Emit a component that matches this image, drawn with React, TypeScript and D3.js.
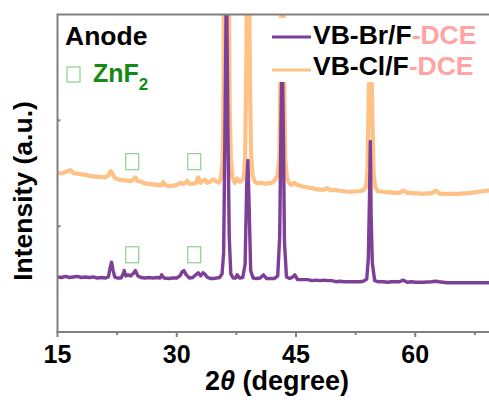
import React from "react";
import * as d3 from "d3";

// ---- data (2θ in degrees, intensity in arbitrary units) ----
const brTheta = [15, 15.5, 16, 16.5, 17, 17.5, 18, 18.5, 19, 19.5, 20, 20.5, 21, 21.4, 21.6, 21.8, 22.0, 22.2, 22.5, 23, 23.2, 23.4, 23.6, 23.9, 24.2, 24.5, 24.8, 25.1, 25.5, 26, 26.5, 27, 27.5, 27.9, 28.1, 28.4, 29, 29.5, 30, 30.4, 30.7, 30.9, 31.2, 31.6, 32, 32.4, 32.7, 33.0, 33.3, 33.5, 33.8, 34.2, 34.6, 35, 35.4, 35.7, 35.9, 36.05, 36.25, 36.45, 36.6, 36.8, 37.1, 37.4, 37.6, 37.9, 38.3, 38.6, 38.8, 38.95, 39.1, 39.3, 39.6, 40, 40.5, 40.9, 41.3, 41.8, 42.3, 42.7, 42.95, 43.1, 43.25, 43.4, 43.55, 43.8, 44.2, 44.6, 44.85, 45.2, 45.8, 46.5, 47, 47.5, 48, 48.5, 49, 49.5, 50, 50.5, 51, 51.5, 52, 52.5, 53, 53.5, 53.9, 54.1, 54.25, 54.35, 54.45, 54.6, 54.9, 55.3, 56, 56.5, 57, 57.5, 58, 58.5, 59, 59.5, 60, 61, 62, 62.6, 63, 64, 65, 66, 67, 68, 69, 70];
const brIntensity = [52, 51.5, 52.5, 51.5, 52, 52.5, 51.5, 52, 51.5, 52, 51, 51.5, 51, 52, 60, 66, 58, 52, 51, 51, 54, 58, 53, 54, 53, 55, 58, 53, 51.5, 51, 51.5, 51, 51.5, 51, 54, 51, 50.5, 51, 51, 53, 57, 58, 54, 51, 51.5, 54, 56, 53, 56, 55, 52, 50.5, 50.5, 51, 51.5, 55, 75, 180, 340, 185, 90, 55, 51, 51, 54, 51, 51.5, 64, 140, 162, 120, 58, 51, 50.5, 51, 54, 50.5, 50.5, 50.5, 53, 90, 190, 272, 195, 85, 52, 50.5, 52, 54, 49.5, 49.5, 49.5, 48.5, 49, 48.5, 49, 48.5, 48.5, 47.5, 48, 47.5, 47.5, 47.5, 47.5, 47.5, 48, 50, 70, 130, 180, 110, 65, 48.5, 47.5, 47.5, 47, 47.5, 47.5, 47.5, 49, 47, 47.5, 47, 47, 47.5, 48, 47.5, 46.5, 46.5, 46.5, 46.5, 46.5, 46.5, 46.5];

const clTheta = [15, 15.5, 16, 16.3, 16.6, 17, 17.5, 18, 18.5, 19, 19.5, 20, 20.5, 21, 21.4, 21.7, 22.0, 22.3, 22.7, 23.2, 23.7, 24.2, 24.5, 24.8, 25.1, 25.5, 26, 26.5, 27, 27.5, 28, 28.3, 28.6, 29, 29.5, 30, 30.5, 30.8, 31.1, 31.3, 31.6, 32, 32.4, 32.7, 33.0, 33.3, 33.5, 33.8, 34.2, 34.5, 34.9, 35.3, 35.55, 35.75, 35.85, 35.95, 36.55, 36.65, 36.8, 37.0, 37.3, 37.6, 37.9, 38.2, 38.45, 38.6, 38.75, 38.85, 39.1, 39.2, 39.35, 39.55, 39.8, 40.2, 40.6, 41, 41.5, 42, 42.4, 42.7, 42.9, 43.05, 43.15, 43.4, 43.5, 43.65, 43.85, 44.1, 44.4, 44.8, 45.2, 45.8, 46.5, 47, 47.5, 48, 48.5, 48.9, 49.3, 50, 50.5, 51, 51.5, 52, 52.5, 53, 53.5, 53.85, 54.0, 54.15, 54.3, 54.45, 54.6, 54.75, 54.95, 55.3, 56, 56.5, 57, 57.5, 58, 58.5, 59, 59.5, 60, 60.5, 61, 61.5, 62, 62.6, 63, 63.5, 64, 64.5, 65, 65.5, 66, 66.5, 67, 67.5, 68, 68.5, 69, 69.5, 70];
const clIntensity = [150, 150, 151, 152, 153, 150, 149.5, 149, 148.5, 147.5, 147, 146.5, 146.5, 146, 148, 152, 148, 145, 144, 143.5, 143, 142.5, 144, 146, 142.5, 142, 140.5, 140, 139.5, 139, 138.5, 141.5, 138.5, 138, 138, 139, 141, 140, 141, 143, 140, 140, 141, 146, 141, 143, 144, 141, 142, 144, 143, 141, 145, 160, 200, 340, 340, 215, 165, 146, 141, 145, 142, 143, 146, 165, 250, 340, 340, 245, 168, 148, 142, 140.5, 141, 140, 140.5, 141, 144, 149, 165, 245, 340, 340, 245, 162, 146, 141, 139, 141, 139, 137.5, 136.5, 136, 135, 134.5, 134.5, 136, 134, 134, 133.5, 133, 132.5, 132.5, 133, 133, 134, 138, 155, 225, 270, 266, 205, 152, 137, 133, 132.5, 132, 132, 131.5, 131.5, 133.5, 131.5, 131.5, 131, 131, 130.5, 131, 131, 133.5, 131, 130.5, 130.5, 130.5, 130.5, 130.5, 131, 131, 131.5, 132, 132.5, 133, 133.5, 134, 134.5];

const xTicks = [15, 30, 45, 60];
const xMinorTicks = [22.5, 37.5, 52.5, 67.5];
const yTicks = [100, 200];
const markerTheta = [24.4, 32.2];
const markerLevels = [161, 73];

const seriesNames = ["VB-Br/F", "VB-Cl/F"];
const seriesSuffix = "-DCE";

const W = 489, H = 402;
const PURPLE = "#7e3f97";
const ORANGE = "#fec287";
const GREEN = "#148a14";
const GREEN_LIGHT = "#8ed08e";
const PINK = "#ffa3a3";
const GRAY = "#808080";
const FONT = "'Liberation Sans', Arial, sans-serif";

export default function App() {
  const left = 57.5, top = 14.5, bottom = 332;
  const x = d3.scaleLinear().domain([15, 70]).range([left, left + 55 * 7.95]);
  const y = d3.scaleLinear().domain([0, 300]).range([bottom, top]);

  const mk = (th: number[], it: number[]) =>
    d3.line<[number, number]>().x(d => x(d[0])).y(d => y(d[1]))(th.map((t, i) => [t, it[i]] as [number, number])) || "";

  const brPath = mk(brTheta, brIntensity);
  const clPath = mk(clTheta, clIntensity);

  const right = x(70);

  return (
    <svg width={W} height={H} style={{ position: "absolute", left: 0, top: 0, background: "#fff" }} fontFamily={FONT}>
      <defs>
        <clipPath id="plotclip">
          <rect x={left} y={top} width={right - left} height={bottom - top} />
        </clipPath>
      </defs>
      <rect x={0} y={0} width={W} height={H} fill="#fff" />
      <g clipPath="url(#plotclip)">
        <path d={clPath} fill="none" stroke={ORANGE} strokeWidth={4.2} strokeLinejoin="round" />
        <path d={brPath} fill="none" stroke={PURPLE} strokeWidth={3.4} strokeLinejoin="round" />
      </g>
      {/* ZnF2 markers */}
      {markerLevels.map((lv, j) =>
        markerTheta.map((t, i) => (
          <rect key={`m${j}${i}`} x={x(t) - 6.5} y={y(lv) - 8} width={13} height={16} fill="none" stroke={GREEN_LIGHT} strokeWidth={1.2} />
        ))
      )}
      {/* legend box */}
      <rect x={262} y={18} width={W - 262} height={64} fill="#fff" />
      <line x1={272} x2={311} y1={37} y2={37} stroke={PURPLE} strokeWidth={3} />
      <line x1={272} x2={311} y1={70} y2={70} stroke={ORANGE} strokeWidth={3} />
      <text x={313} y={44} fontSize={26.5} fontWeight="bold">
        <tspan fill="#000">{seriesNames[0]}</tspan><tspan fill={PINK}>{seriesSuffix}</tspan>
      </text>
      <text x={313} y={75} fontSize={26.5} fontWeight="bold">
        <tspan fill="#000">{seriesNames[1]}</tspan><tspan fill={PINK}>{seriesSuffix}</tspan>
      </text>
      {/* Anode / ZnF2 labels */}
      <text x={65} y={45} fontSize={26.5} fontWeight="bold" fill="#000">Anode</text>
      <rect x={67} y={67} width={13} height={15} fill="none" stroke={GREEN_LIGHT} strokeWidth={1.2} />
      <text x={93} y={82} fontSize={25} fontWeight="bold" fill={GREEN}>ZnF<tspan fontSize={17} dy={8}>2</tspan></text>
      {/* frame */}
      <line x1={left} x2={W} y1={top} y2={top} stroke={GRAY} strokeWidth={2} />
      <line x1={left} x2={left} y1={top - 1} y2={bottom + 1} stroke={GRAY} strokeWidth={2} />
      <line x1={left - 1} x2={W} y1={bottom} y2={bottom} stroke={GRAY} strokeWidth={2} />
      <line x1={right} x2={right} y1={top} y2={bottom} stroke={GRAY} strokeWidth={2} />
      {xTicks.map(t => (
        <g key={`xt${t}`}>
          <line x1={x(t)} x2={x(t)} y1={bottom} y2={bottom + 5} stroke={GRAY} strokeWidth={2} />
          <text x={x(t)} y={363} fontSize={25} fontWeight="bold" textAnchor="middle" fill="#000">{t}</text>
        </g>
      ))}
      {xMinorTicks.map(t => (
        <line key={`xm${t}`} x1={x(t)} x2={x(t)} y1={bottom} y2={bottom + 3} stroke={GRAY} strokeWidth={2} />
      ))}
      {yTicks.map(t => (
        <line key={`yt${t}`} x1={left} x2={left + 3} y1={y(t)} y2={y(t)} stroke={GRAY} strokeWidth={2} />
      ))}
      <text x={277} y={390} fontSize={27} fontWeight="bold" textAnchor="middle" fill="#000">
        2<tspan fontStyle="italic">θ</tspan> (degree)
      </text>
      <text transform="translate(32,191) rotate(-90)" fontSize={26.5} fontWeight="bold" textAnchor="middle" fill="#000">
        Intensity (a.u.)
      </text>
    </svg>
  );
}
